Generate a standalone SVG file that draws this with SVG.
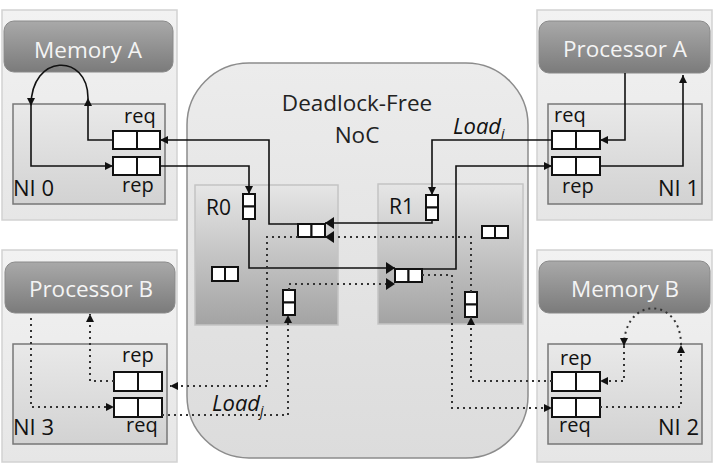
<svg xmlns="http://www.w3.org/2000/svg" width="714" height="473" viewBox="0 0 714 473">
<defs>
<linearGradient id="gPanel" x1="0" y1="0" x2="0" y2="1"><stop offset="0" stop-color="#f2f2f2"/><stop offset="1" stop-color="#e6e6e6"/></linearGradient>
<linearGradient id="gMod" x1="0" y1="0" x2="0" y2="1"><stop offset="0" stop-color="#a9a9a9"/><stop offset="1" stop-color="#7b7b7b"/></linearGradient>
<linearGradient id="gNI" x1="0" y1="0" x2="0" y2="1"><stop offset="0" stop-color="#e9e9e9"/><stop offset="1" stop-color="#d2d2d2"/></linearGradient>
<linearGradient id="gNoC" x1="0" y1="0" x2="0" y2="1"><stop offset="0" stop-color="#ececec"/><stop offset="1" stop-color="#dcdcdc"/></linearGradient>
<linearGradient id="gR" x1="0" y1="0" x2="0" y2="1"><stop offset="0" stop-color="#e6e6e6"/><stop offset="1" stop-color="#a3a3a3"/></linearGradient>
<marker id="ah" viewBox="0 0 10 10" refX="10" refY="5" markerWidth="8" markerHeight="8" markerUnits="userSpaceOnUse" orient="auto"><path d="M0,0 L10,5 L0,10 z" fill="#111"/></marker>
<marker id="ahb" viewBox="0 0 10 10" refX="10" refY="5" markerWidth="9" markerHeight="12" markerUnits="userSpaceOnUse" orient="auto" preserveAspectRatio="none"><path d="M0,0 L10,5 L0,10 z" fill="#111"/></marker>
</defs>
<style>
.panel{fill:url(#gPanel);stroke:#d2d2d2;stroke-width:1.5}
.mod{fill:url(#gMod);stroke:#8a8a8a;stroke-width:1}
.modt{font-family:"Open Sans",sans-serif;font-size:22.5px;fill:#f4f4f4;text-anchor:middle}
.ni{fill:url(#gNI);stroke:#777;stroke-width:1.5}
.lbl{font-family:"Open Sans",sans-serif;font-size:20px;fill:#111}
.nil{font-family:"Open Sans",sans-serif;font-size:22px;fill:#111}
.noc{fill:url(#gNoC);stroke:#8c8c8c;stroke-width:1.5}
.nocT{font-family:"Open Sans",sans-serif;font-size:22.5px;fill:#222;text-anchor:middle}
.rt{fill:url(#gR);stroke:#c4c4c4;stroke-width:1.5}
.rl{font-family:"Open Sans",sans-serif;font-size:21px;fill:#111}
.buf{fill:#fff;stroke:#111;stroke-width:2}
.sl{fill:none;stroke:#111;stroke-width:1.6}
.dl{fill:none;stroke:#333;stroke-width:2;stroke-dasharray:2 4}
.ld{font-family:"Open Sans",sans-serif;font-style:italic;font-size:22px;fill:#111}
</style>

<g id="noc">
<rect class="noc" x="187" y="63" width="341" height="395" rx="62"/>
<text class="nocT" x="357" y="111">Deadlock-Free</text>
<text class="nocT" x="357" y="143">NoC</text>
</g>

<g id="R0">
<rect class="rt" x="195" y="185" width="143" height="140"/>
<text class="rl" x="206" y="215">R0</text>
<rect class="buf" x="243" y="194" width="12" height="12.5"/><rect class="buf" x="243" y="206.5" width="12" height="12.5"/>
<rect class="buf" x="298" y="224" width="13.5" height="13"/><rect class="buf" x="311.5" y="224" width="13.5" height="13"/>
<rect class="buf" x="212" y="267" width="13" height="14"/><rect class="buf" x="225" y="267" width="13" height="14"/>
<rect class="buf" x="283" y="290" width="12" height="12.5"/><rect class="buf" x="283" y="302.5" width="12" height="12.5"/>
</g>

<g id="R1">
<rect class="rt" x="378" y="184" width="145" height="140"/>
<text class="rl" x="389" y="214">R1</text>
<rect class="buf" x="426" y="195" width="12" height="12.5"/><rect class="buf" x="426" y="207.5" width="12" height="12.5"/>
<rect class="buf" x="395" y="269" width="13.5" height="13"/><rect class="buf" x="408.5" y="269" width="13.5" height="13"/>
<rect class="buf" x="482" y="226" width="13" height="12"/><rect class="buf" x="495" y="226" width="13" height="12"/>
<rect class="buf" x="465" y="292" width="12" height="12.5"/><rect class="buf" x="465" y="304.5" width="12" height="12.5"/>
</g>

<g id="tile0">
<rect class="panel" x="2" y="10" width="175" height="210"/>
<rect class="mod" x="4" y="21" width="169" height="51" rx="10"/>
<text class="modt" x="88" y="58">Memory A</text>
<rect class="ni" x="13" y="104" width="152" height="100"/>
<text class="lbl" x="124" y="123">req</text>
<text class="lbl" x="122" y="192">rep</text>
<text class="nil" x="13" y="196">NI 0</text>
<rect class="buf" x="113" y="131" width="24" height="18"/><rect class="buf" x="137" y="131" width="23" height="18"/>
<rect class="buf" x="113" y="157" width="24" height="18"/><rect class="buf" x="137" y="157" width="23" height="18"/>
</g>

<g id="tile1">
<rect class="panel" x="537" y="10" width="175" height="210"/>
<rect class="mod" x="539" y="21" width="171" height="52" rx="10"/>
<text class="modt" x="625" y="57">Processor A</text>
<rect class="ni" x="548" y="104" width="154" height="100"/>
<text class="lbl" x="554" y="122">req</text>
<text class="lbl" x="562" y="193">rep</text>
<text class="nil" x="699" y="196" text-anchor="end">NI 1</text>
<rect class="buf" x="552" y="131" width="24" height="18"/><rect class="buf" x="576" y="131" width="24" height="18"/>
<rect class="buf" x="552" y="157" width="24" height="18"/><rect class="buf" x="576" y="157" width="24" height="18"/>
</g>

<g id="tile3">
<rect class="panel" x="2" y="250" width="175" height="212"/>
<rect class="mod" x="5" y="262" width="170" height="51" rx="10"/>
<text class="modt" x="91" y="297">Processor B</text>
<rect class="ni" x="13" y="344" width="154" height="100"/>
<text class="lbl" x="122" y="362">rep</text>
<text class="lbl" x="126" y="432">req</text>
<text class="nil" x="13" y="435">NI 3</text>
<rect class="buf" x="114" y="372" width="24" height="19"/><rect class="buf" x="138" y="372" width="24" height="19"/>
<rect class="buf" x="114" y="398" width="24" height="19"/><rect class="buf" x="138" y="398" width="24" height="19"/>
</g>

<g id="tile2">
<rect class="panel" x="537" y="250" width="175" height="212"/>
<rect class="mod" x="539" y="261" width="171" height="52" rx="10"/>
<text class="modt" x="625" y="297">Memory B</text>
<rect class="ni" x="548" y="344" width="154" height="100"/>
<text class="lbl" x="560" y="365">rep</text>
<text class="lbl" x="559" y="432">req</text>
<text class="nil" x="699" y="435" text-anchor="end">NI 2</text>
<rect class="buf" x="552" y="372" width="24" height="19"/><rect class="buf" x="576" y="372" width="24" height="19"/>
<rect class="buf" x="552" y="398" width="24" height="19"/><rect class="buf" x="576" y="398" width="24" height="19"/>
</g>

<g id="connectors">
<path class="sl" marker-end="url(#ah)" d="M113,140 H88 V98"/>
<path class="sl" marker-end="url(#ah)" d="M88,98 C88,53 31,53 31,106"/>
<path class="sl" marker-end="url(#ah)" d="M31,106 V166 H113"/>
<path class="sl" marker-end="url(#ah)" d="M625,73 V140 H600"/>
<path class="sl" marker-end="url(#ah)" d="M600,166 H683 V75"/>
<path class="sl" marker-end="url(#ah)" d="M552,140 H432 V195"/>
<path class="sl" marker-end="url(#ahb)" d="M432,220 V223 H325"/>
<path class="sl" marker-end="url(#ah)" d="M298,224 H269 V140 H160"/>
<path class="sl" marker-end="url(#ah)" d="M160,166 H249 V194"/>
<path class="sl" marker-end="url(#ahb)" d="M249,219 V268 H395"/>
<path class="sl" marker-end="url(#ah)" d="M422,269 H456 V166 H552"/>

<path class="dl" marker-end="url(#ah)" d="M31,318 V407 H114"/>
<path class="dl" marker-end="url(#ah)" d="M162,415 H288 V315"/>
<path class="dl" marker-end="url(#ahb)" d="M289,290 V284 H395"/>
<path class="dl" marker-end="url(#ah)" d="M422,275 H452 V408 H552"/>
<path class="dl" marker-end="url(#ah)" d="M600,407 H681 V345"/>
<path class="dl" marker-end="url(#ah)" d="M681,345 C681,296 624,296 624,346"/>
<path class="dl" marker-end="url(#ah)" d="M624,346 V381 H600"/>
<path class="dl" marker-end="url(#ah)" d="M552,381 H471 V317"/>
<path class="dl" marker-end="url(#ahb)" d="M471,292 V237 H325"/>
<path class="dl" marker-end="url(#ah)" d="M298,237 H267 V386 H170"/>
<path class="dl" marker-end="url(#ah)" d="M114,381 H90 V314"/>

<text class="ld" x="453" y="134">Load<tspan font-size="14" dy="5">i</tspan></text>
<text class="ld" x="212" y="411">Load<tspan font-size="14" dy="5">j</tspan></text>
</g>
</svg>
